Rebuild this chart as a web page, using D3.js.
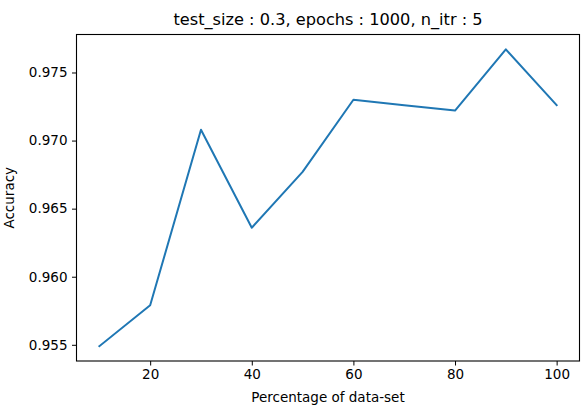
<!DOCTYPE html>
<html>
<head>
<meta charset="utf-8">
<script src="https://cdn.jsdelivr.net/npm/d3@7"></script>
<style>
  html, body { margin: 0; padding: 0; background: #fff; }
  svg { display: block; font-family: "DejaVu Sans", sans-serif; }
</style>
</head>
<body>
<svg id="chart" width="583" height="407"></svg>
<script>
const percentages = [10, 20, 30, 40, 50, 60, 70, 80, 90, 100];
const accuracy = [0.9549, 0.9579, 0.9708, 0.9636, 0.9677, 0.9730, 0.9726, 0.9722, 0.9767, 0.9726];
const xTickValues = [20, 40, 60, 80, 100];
const yTickValues = [0.955, 0.960, 0.965, 0.970, 0.975];
const titleText = "test_size : 0.3, epochs : 1000, n_itr : 5";
const xLabelText = "Percentage of data-set";
const yLabelText = "Accuracy";

const svg = d3.select("#chart");
const plotLeft = 76.5, plotRight = 579.5, plotTop = 34.5, plotBottom = 361;

const xMin = d3.min(percentages), xMax = d3.max(percentages);
const xPad = (xMax - xMin) * 0.05;
const yMin = d3.min(accuracy), yMax = d3.max(accuracy);
const yPad = (yMax - yMin) * 0.05;

const x = d3.scaleLinear().domain([xMin - xPad, xMax + xPad]).range([plotLeft, plotRight]);
const y = d3.scaleLinear().domain([yMin - yPad, yMax + yPad]).range([plotBottom, plotTop]);

const fontSize = 13.5;

// x axis
const xAxis = d3.axisBottom(x).tickValues(xTickValues).tickFormat(d3.format("d")).tickSize(4.5).tickPadding(4);
const gx = svg.append("g").attr("transform", `translate(0,${plotBottom})`).call(xAxis);
gx.select(".domain").remove();
gx.selectAll("line").attr("stroke", "#000").attr("stroke-width", 1);
gx.selectAll("text").attr("font-size", fontSize).attr("fill", "#000").attr("font-family", "DejaVu Sans");

// y axis
const yAxis = d3.axisLeft(y).tickValues(yTickValues).tickFormat(d3.format(".3f")).tickSize(4.5).tickPadding(4.5);
const gy = svg.append("g").attr("transform", `translate(${plotLeft},0)`).call(yAxis);
gy.select(".domain").remove();
gy.selectAll("line").attr("stroke", "#000").attr("stroke-width", 1);
gy.selectAll("text").attr("font-size", fontSize).attr("fill", "#000").attr("font-family", "DejaVu Sans");

// line
const line = d3.line().x((d, i) => x(percentages[i])).y(d => y(d));
svg.append("path")
  .datum(accuracy)
  .attr("d", line)
  .attr("fill", "none")
  .attr("stroke", "#1f77b4")
  .attr("stroke-width", 2)
  .attr("stroke-linejoin", "round")
  .attr("stroke-linecap", "square");

// frame
svg.append("rect")
  .attr("x", plotLeft).attr("y", plotTop)
  .attr("width", plotRight - plotLeft).attr("height", plotBottom - plotTop)
  .attr("fill", "none").attr("stroke", "#000").attr("stroke-width", 1.1);

// title
svg.append("text")
  .attr("x", (plotLeft + plotRight) / 2).attr("y", 25)
  .attr("text-anchor", "middle")
  .attr("font-size", 16.2)
  .attr("fill", "#000")
  .text(titleText);

// x label
svg.append("text")
  .attr("x", (plotLeft + plotRight) / 2).attr("y", 402)
  .attr("text-anchor", "middle")
  .attr("font-size", fontSize)
  .attr("fill", "#000")
  .text(xLabelText);

// y label
svg.append("text")
  .attr("transform", `translate(14,${(plotTop + plotBottom) / 2}) rotate(-90)`)
  .attr("text-anchor", "middle")
  .attr("font-size", fontSize)
  .attr("fill", "#000")
  .text(yLabelText);
</script>
</body>
</html>
